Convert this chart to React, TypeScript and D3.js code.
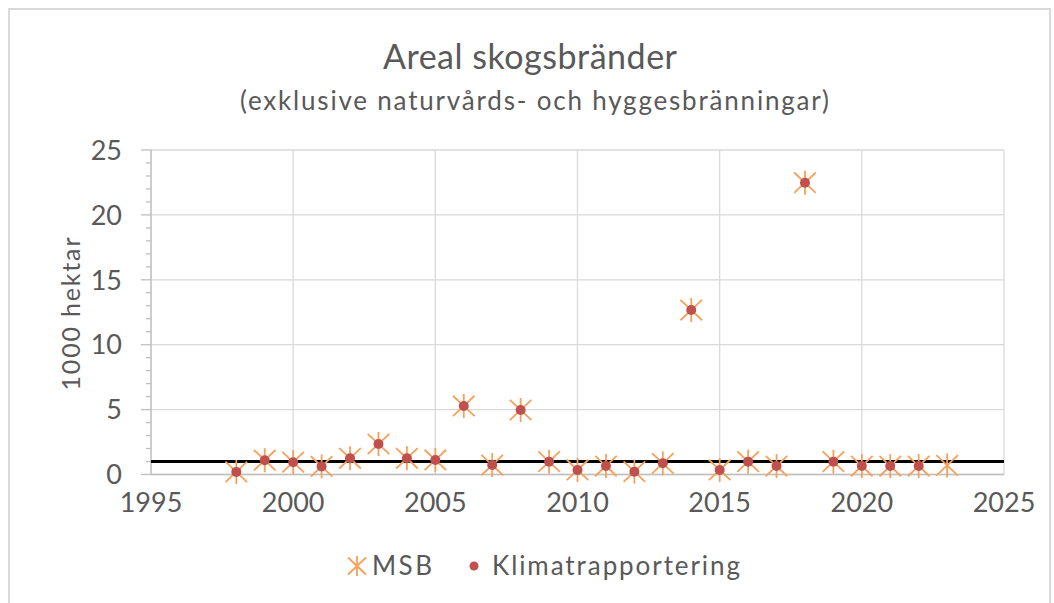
import * as d3 from "d3";

const years = [1998, 1999, 2000, 2001, 2002, 2003, 2004, 2005, 2006, 2007, 2008, 2009, 2010, 2011, 2012, 2013, 2014, 2015, 2016, 2017, 2018, 2019, 2020, 2021, 2022, 2023];
const msb = [0.2, 1.1, 0.95, 0.62, 1.25, 2.35, 1.25, 1.12, 5.28, 0.73, 4.97, 0.99, 0.35, 0.65, 0.22, 0.86, 12.67, 0.35, 0.99, 0.65, 22.48, 0.99, 0.65, 0.65, 0.65, 0.7];
const klimat = [0.2, 1.1, 0.95, 0.62, 1.25, 2.35, 1.25, 1.12, 5.28, 0.73, 4.97, 0.99, 0.35, 0.65, 0.22, 0.86, 12.67, 0.35, 0.99, 0.65, 22.48, 0.99, 0.65, 0.65, 0.65];
const xTicks = [1995, 2000, 2005, 2010, 2015, 2020, 2025];
const yTicks = [0, 5, 10, 15, 20, 25];
const refLevel = 1;

const W = 1054;
const H = 603;
const font = "Lato, 'Open Sans', sans-serif";
const textColor = "#595959";
const starColor = "#F7A05A";
const dotColor = "#C0504D";

const Star = ({ x, y, s = 12 }: { x: number; y: number; s?: number }) => (
  <g transform={`translate(${x},${y})`} stroke={starColor} strokeWidth={1.8} fill="none">
    <line x1={-s * 0.9} y1={-s * 0.85} x2={s * 0.9} y2={s * 0.85} />
    <line x1={-s * 0.9} y1={s * 0.85} x2={s * 0.9} y2={-s * 0.85} />
    <line x1={0} y1={-s} x2={0} y2={s} />
  </g>
);

export default () => {
  const x = d3.scaleLinear().domain([1995, 2025]).range([151, 1004]);
  const y = d3.scaleLinear().domain([0, 25]).range([474.5, 150]);
  const minor = d3.range(0, 26, 1);

  return (
    <svg width={W} height={H} style={{ position: "absolute", left: 0, top: 0 }}>
      <rect x={0} y={0} width={W} height={H} fill="#fff" />
      <rect x={9} y={9} width={W - 13} height={H} fill="#fff" stroke="#d9d9d9" strokeWidth={2} />

      <text x={383} y={69} fontFamily={font} fontSize={34} fill={textColor} textLength={294} lengthAdjust="spacing">
        Areal skogsbränder
      </text>
      <text x={240} y={110} fontFamily={font} fontSize={26} fill={textColor} textLength={589} lengthAdjust="spacing">
        (exklusive naturvårds- och hyggesbränningar)
      </text>

      {/* grid */}
      {yTicks.map((t) => (
        <line key={`gy-${t}`} x1={x(1995)} x2={x(2025)} y1={y(t)} y2={y(t)} stroke="#d9d9d9" strokeWidth={1.3} />
      ))}
      {xTicks.map((t) => (
        <line key={`gx-${t}`} x1={x(t)} x2={x(t)} y1={y(0)} y2={y(25)} stroke="#d9d9d9" strokeWidth={1.3} />
      ))}

      {/* y axis with minor ticks */}
      <line x1={x(1995)} x2={x(1995)} y1={y(0)} y2={y(25)} stroke="#bfbfbf" strokeWidth={1.3} />
      {minor.map((t) => (
        <line
          key={`mt-${t}`}
          x1={x(1995) - (t % 5 === 0 ? 10 : 5)}
          x2={x(1995)}
          y1={y(t)}
          y2={y(t)}
          stroke="#bfbfbf"
          strokeWidth={1.3}
        />
      ))}
      <line x1={x(1995)} x2={x(2025)} y1={y(0)} y2={y(0)} stroke="#bfbfbf" strokeWidth={1.3} />

      {yTicks.map((t) => (
        <text key={`yl-${t}`} x={122} y={y(t)} dy="0.36em" textAnchor="end" fontFamily={font} fontSize={27} fill={textColor}>
          {t}
        </text>
      ))}
      {xTicks.map((t) => (
        <text key={`xl-${t}`} x={x(t)} y={512} textAnchor="middle" fontFamily={font} fontSize={27} fill={textColor}>
          {t}
        </text>
      ))}
      <text
        transform={`translate(80,314) rotate(-90)`}
        textAnchor="middle"
        fontFamily={font}
        fontSize={25}
        fill={textColor}
        textLength={153}
        lengthAdjust="spacing"
      >
        1000 hektar
      </text>

      {/* reference line */}
      <line x1={x(1995)} x2={x(2025)} y1={y(refLevel)} y2={y(refLevel)} stroke="#000" strokeWidth={3} />

      {msb.map((v, i) => (
        <Star key={`s-${i}`} x={x(years[i])} y={y(v)} />
      ))}
      {klimat.map((v, i) => (
        <circle key={`c-${i}`} cx={x(years[i])} cy={y(v)} r={5} fill={dotColor} />
      ))}

      {/* legend */}
      <Star x={357} y={566} s={10} />
      <text x={372} y={575} fontFamily={font} fontSize={26} fill={textColor} textLength={60} lengthAdjust="spacing">MSB</text>
      <circle cx={474} cy={566} r={4.5} fill={dotColor} />
      <text x={492} y={575} fontFamily={font} fontSize={26} fill={textColor} textLength={248} lengthAdjust="spacing">Klimatrapportering</text>
    </svg>
  );
};
